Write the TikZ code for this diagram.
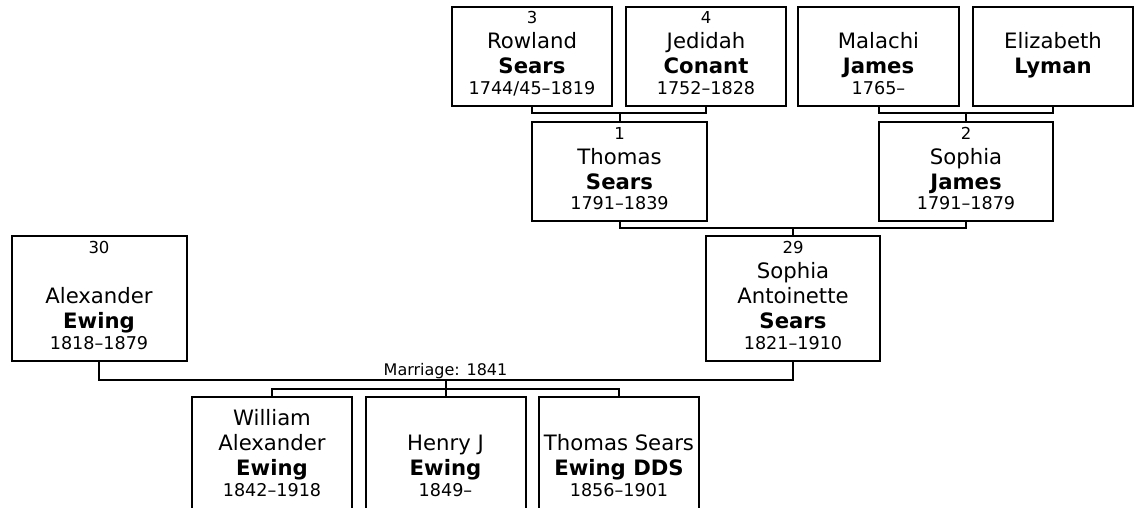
\documentclass[tikz,border=0pt]{standalone}
\usepackage{fontspec}
\setmainfont{DejaVu Sans}
\newcommand\Lnum[1]{\hbox to 0pt{\hss\fontsize{16.5}{18}\selectfont #1\hss}}
\newcommand\Lname[1]{\hbox to 0pt{\hss\fontsize{21.2}{25}\selectfont #1\hss}}
\newcommand\Lsur[1]{\hbox to 0pt{\hss\fontsize{21.2}{25}\selectfont\bfseries #1\hss}}
\newcommand\Lyrs[1]{\baselineskip=20.5pt\hbox to 0pt{\hss\fontsize{17.6}{20}\selectfont #1\hss}}
\newcommand\Pstack[1]{\vbox{\baselineskip=25pt\lineskiplimit=-100pt\lineskip=0pt #1}}
\begin{document}
\begin{tikzpicture}[x=1pt,y=1pt,
  pbox/.style={draw=black, line width=2pt, inner sep=0pt, outer sep=0pt, fill=white},
  conn/.style={draw=black, line width=2pt},
  ptxt/.style={anchor=base, inner sep=0pt, outer sep=0pt}]
\useasboundingbox (0,0) rectangle (1137,-508);
\clip (0,0) rectangle (1137,-508);
\fill[white] (0,0) rectangle (1137,-508);

% generation 1
\node[pbox, minimum width=160, minimum height=99] (rowland) at (532,-56.5) {};
\node[pbox, minimum width=160, minimum height=99] (jedidah) at (706,-56.5) {};
\node[pbox, minimum width=161, minimum height=99] (malachi) at (878.5,-56.5) {};
\node[pbox, minimum width=160, minimum height=99] (elizabeth) at (1053,-56.5) {};
% generation 2
\node[pbox, minimum width=175, minimum height=99] (thomas) at (619.5,-171.5) {};
\node[pbox, minimum width=174, minimum height=99] (sophiaj) at (966,-171.5) {};
% generation 3
\node[pbox, minimum width=175, minimum height=125] (alexander) at (99,-298.5) {};
\node[pbox, minimum width=174, minimum height=125] (sophiaa) at (793,-298.5) {};
% children
\node[pbox, minimum width=160, minimum height=118] (william) at (272,-456) {};
\node[pbox, minimum width=160, minimum height=118] (henry) at (445.5,-456) {};
\node[pbox, minimum width=160, minimum height=118] (thomass) at (619,-456) {};

% texts
\node[ptxt] (rowland-t) at (532,-94.5) {\Pstack{\Lnum{3}\Lname{Rowland}\Lsur{Sears}\Lyrs{1744/45–1819}}};
\node[ptxt] (jedidah-t) at (706,-94.5) {\Pstack{\Lnum{4}\Lname{Jedidah}\Lsur{Conant}\Lyrs{1752–1828}}};
\node[ptxt] (malachi-t) at (878.5,-94.5) {\Pstack{\Lname{Malachi}\Lsur{James}\Lyrs{1765–}}};
\node[ptxt] (elizabeth-t) at (1053,-94.5) {\Pstack{\Lname{Elizabeth}\Lsur{Lyman}\Lyrs{}}};
\node[ptxt] (thomas-t) at (619.5,-209.5) {\Pstack{\Lnum{1}\Lname{Thomas}\Lsur{Sears}\Lyrs{1791–1839}}};
\node[ptxt] (sophiaj-t) at (966,-209.5) {\Pstack{\Lnum{2}\Lname{Sophia}\Lsur{James}\Lyrs{1791–1879}}};
\node[ptxt] (alexander-t) at (99,-349) {\Pstack{\Lnum{30}\Lname{}\Lname{Alexander}\Lsur{Ewing}\Lyrs{1818–1879}}};
\node[ptxt] (sophiaa-t) at (793,-349) {\Pstack{\Lnum{29}\Lname{Sophia}\Lname{Antoinette}\Lsur{Sears}\Lyrs{1821–1910}}};
\node[ptxt] (william-t) at (272,-496) {\Pstack{\Lname{William}\Lname{Alexander}\Lsur{Ewing}\Lyrs{1842–1918}}};
\node[ptxt] (henry-t) at (445.5,-496) {\Pstack{\Lname{Henry J}\Lsur{Ewing}\Lyrs{1849–}}};
\node[ptxt] (thomass-t) at (619,-496) {\Pstack{\Lname{Thomas Sears}\Lsur{Ewing DDS}\Lyrs{1856–1901}}};

\node[ptxt, font=\fontsize{16}{18}\selectfont] (marriage) at (445.5,-375.5) {Marriage: 1841};

% connectors
\draw[conn] (rowland.south) -- ++(0,-7) -| (jedidah.south);
\draw[conn] (thomas.north) -- ++(0,9);
\draw[conn] (malachi.south) -- ++(0,-7) -| (elizabeth.south);
\draw[conn] (sophiaj.north) -- ++(0,9);
\draw[conn] (thomas.south) -- ++(0,-7) -| (sophiaj.south);
\draw[conn] (sophiaa.north) -- ++(0,8);
\draw[conn] (alexander.south) -- ++(0,-19) -| (sophiaa.south);
\draw[conn] (henry.north) -- ++(0,17);
\draw[conn] (william.north) -- ++(0,8) -| (thomass.north);
\end{tikzpicture}
\end{document}
